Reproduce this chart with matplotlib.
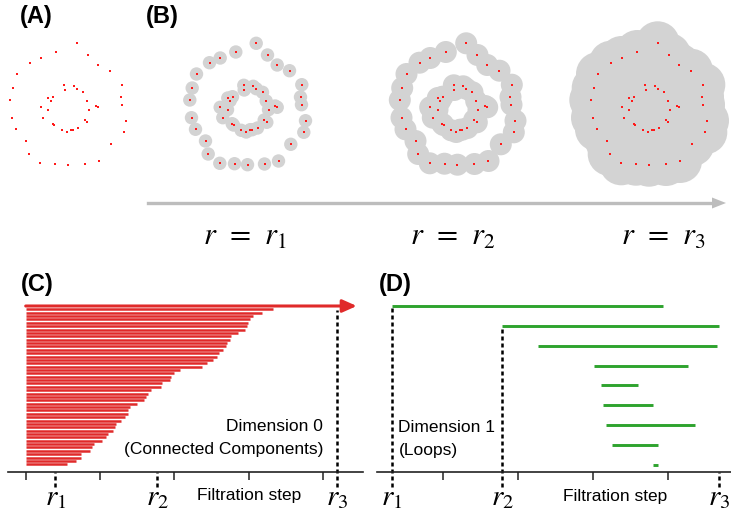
import numpy as np
import matplotlib.pyplot as plt
from matplotlib.patches import Circle

plt.rcParams['font.family'] = ['Liberation Sans', 'DejaVu Sans']
plt.rcParams['mathtext.fontset'] = 'stix'

W, H = 731, 519

# point cloud: two noisy rings (x to the right, y downward)
outer_x = [76.7, 88.0, 97.7, 110.0, 122.3, 121.0, 122.0, 126.0, 124.3, 111.3, 99.0, 85.0, 68.0,
           55.0, 40.3, 28.7, 26.0, 16.0, 12.0, 10.3, 12.7, 17.0, 30.0, 40.7, 56.3]
outer_y = [43.3, 55.0, 65.0, 70.7, 84.7, 97.0, 104.7, 120.7, 132.3, 144.3, 161.0, 164.0, 164.7,
           163.7, 163.3, 154.0, 141.0, 129.3, 117.7, 100.0, 88.0, 74.0, 62.7, 58.0, 52.0]
inner_x = [64.3, 73.7, 76.7, 64.7, 83.0, 48.3, 53.0, 50.7, 86.7, 40.7, 48.0, 95.7, 97.7, 89.0,
           43.3, 84.7, 87.3, 52.7, 54.0, 78.0, 70.7, 72.7, 61.7, 66.7]
inner_y = [85.3, 86.3, 88.7, 90.0, 92.3, 98.0, 96.7, 100.7, 101.0, 107.3, 109.7, 106.0, 107.3,
           109.7, 117.7, 120.0, 122.3, 123.7, 125.0, 128.0, 129.7, 129.7, 130.3, 132.0]

# filtration radii used for the three snapshots
radii = [6.7, 11.0, 22.0]

# dimension 0 barcode: death times (births all at 0), top bar never dies
dim0_deaths = [3.32, 3.18, 3.06, 3.02, 2.99, 2.98, 2.95, 2.85, 2.76, 2.75, 2.70, 2.69, 2.65,
               2.60, 2.57, 2.52, 2.44, 2.37, 2.07, 1.99, 1.95, 1.94, 1.83, 1.82, 1.68, 1.65,
               1.62, 1.59, 1.49, 1.40, 1.38, 1.37, 1.34, 1.28, 1.22, 1.20, 1.18, 1.10, 1.08,
               1.03, 0.92, 0.89, 0.87, 0.75, 0.74, 0.68, 0.55]
dim0_inf_end = 4.45
dim0_r = [0.40, 1.77, 4.19]

# dimension 1 barcode (loops)
dim1_births = [0.31, 1.79, 2.26, 3.01, 3.11, 3.13, 3.18, 3.26, 3.80]
dim1_deaths = [3.94, 4.69, 4.66, 4.27, 3.60, 3.81, 4.37, 3.87, 3.87]
dim1_r = [0.31, 1.79, 4.69]

filt_ticks0 = [0, 1, 2, 3, 4]
filt_ticks1 = [1, 2, 3, 4]

red = '#e02a2a'
green = '#2ea32e'
grey = '#d3d3d3'


def box(l, t, r, b):
    return [l / W, 1 - b / H, (r - l) / W, (b - t) / H]


fig = plt.figure(figsize=(W / 100, H / 100), dpi=100)

px = np.array(outer_x + inner_x)
py = np.array(outer_y + inner_y)

# (A) raw points, then (B) three growing-ball snapshots
offsets = [0, 179.5, 389.5, 581]
for k, dx in enumerate(offsets):
    ax = fig.add_axes(box(dx - 30, 15, dx + 150, 190))
    ax.set_xlim(-30, 150)
    ax.set_ylim(190, 15)
    ax.axis('off')
    ax.patch.set_alpha(0)
    if k > 0:
        for x, y in zip(px, py):
            ax.add_patch(Circle((x, y), radii[k - 1], color=grey, lw=0, zorder=1))
    ax.scatter(px, py, s=3.5, marker='s', color='#ff1a1a', linewidths=0, zorder=2)

# arrow under the snapshots
fig.add_artist(plt.Line2D([148 / W, 713 / W], [1 - 203 / H, 1 - 203 / H],
                          color='#bdbdbd', lw=2.4))
fig.patches.append(plt.Polygon([[712 / W, 1 - 197.5 / H], [726 / W, 1 - 203 / H],
                                [712 / W, 1 - 208.5 / H]], closed=True,
                               transform=fig.transFigure, color='#bdbdbd', lw=0))
for xc, i in zip([245, 453, 663], [1, 2, 3]):
    fig.text(xc / W, 1 - 237 / H, r'$r\;\,=\;\,r_%d$' % i, fontsize=22,
             ha='center', va='center')

for lab, x, y in [('(A)', 20, 16), ('(B)', 146, 16), ('(C)', 21, 284), ('(D)', 379, 284)]:
    fig.text(x / W, 1 - y / H, lab, fontsize=17, fontweight='bold', va='center')


def style_axis(ax, ticks):
    for s in ['top', 'right', 'left']:
        ax.spines[s].set_visible(False)
    ax.spines['bottom'].set_linewidth(1.2)
    ax.spines['bottom'].set_color('#222222')
    ax.set_yticks([])
    ax.set_xticks(ticks)
    ax.set_xticklabels([])
    ax.tick_params(axis='x', direction='out', length=6, width=1.1, color='#222222')
    ax.patch.set_alpha(0)


# (C) dimension 0 barcode
axc = fig.add_axes(box(8, 298, 363, 471.7))
n0 = len(dim0_deaths) + 1
pitch0 = (464.3 - 306) / (n0 - 1)
ybot0 = -7.4 / pitch0
axc.set_xlim(-0.238, 4.534)
axc.set_ylim(ybot0, n0 - 1 + 8 / pitch0)
style_axis(axc, filt_ticks0)
rows0 = np.arange(len(dim0_deaths))[::-1]
axc.hlines(rows0, 0, dim0_deaths, color=red, lw=1.8)
top0 = n0 - 1
axc.annotate('', xy=(dim0_inf_end, top0), xytext=(0, top0),
             arrowprops=dict(arrowstyle='-|>,head_length=0.85,head_width=0.38', color=red,
                             lw=2.2, mutation_scale=10, shrinkA=0, shrinkB=0))
low0 = ybot0 - 15 / pitch0
for j, r in enumerate(dim0_r):
    ytop = top0 - 1.2 if j == 2 else ybot0
    axc.plot([r, r], [low0, ytop], color='black', lw=1.8, ls=(0, (1.6, 1.2)), clip_on=False)
    axc.text(r, ybot0 - 25 / pitch0, r'$r_%d$' % (j + 1), fontsize=21,
             ha='center', va='center')
axc.text(4.0, ybot0 + 45 / pitch0, 'Dimension 0', fontsize=12.5, ha='right', va='center')
axc.text(4.0, ybot0 + 22 / pitch0, '(Connected Components)', fontsize=12.5,
         ha='right', va='center')
axc.text(3.0, ybot0 - 24 / pitch0, 'Filtration step', fontsize=12.5, ha='center', va='center')

# (D) dimension 1 barcode
axd = fig.add_axes(box(376.7, 298, 731, 472.3))
n1 = len(dim1_births)
pitch1 = (464.7 - 306) / (n1 - 1)
ybot1 = -7.6 / pitch1
axd.set_xlim(0.11, 4.846)
axd.set_ylim(ybot1, n1 - 1 + 8 / pitch1)
style_axis(axd, filt_ticks1)
rows1 = np.arange(n1)[::-1]
axd.hlines(rows1, dim1_births, dim1_deaths, color=green, lw=2.1)
low1 = ybot1 - 15 / pitch1
for j, r in enumerate(dim1_r):
    ytop = [rows1[0] - 0.1, rows1[1] - 0.1, ybot1][j]
    axd.plot([r, r], [low1, ytop], color='black', lw=1.8, ls=(0, (1.6, 1.2)), clip_on=False)
    axd.text(r, ybot1 - 25 / pitch1, r'$r_%d$' % (j + 1), fontsize=21,
             ha='center', va='center')
axd.text(0.40, ybot1 + 45 / pitch1, 'Dimension 1', fontsize=12.5, ha='left', va='center')
axd.text(0.40, ybot1 + 22 / pitch1, '(Loops)', fontsize=12.5, ha='left', va='center')
axd.text(3.3, ybot1 - 24 / pitch1, 'Filtration step', fontsize=12.5, ha='center', va='center')

fig.savefig('out.png', dpi=100)
